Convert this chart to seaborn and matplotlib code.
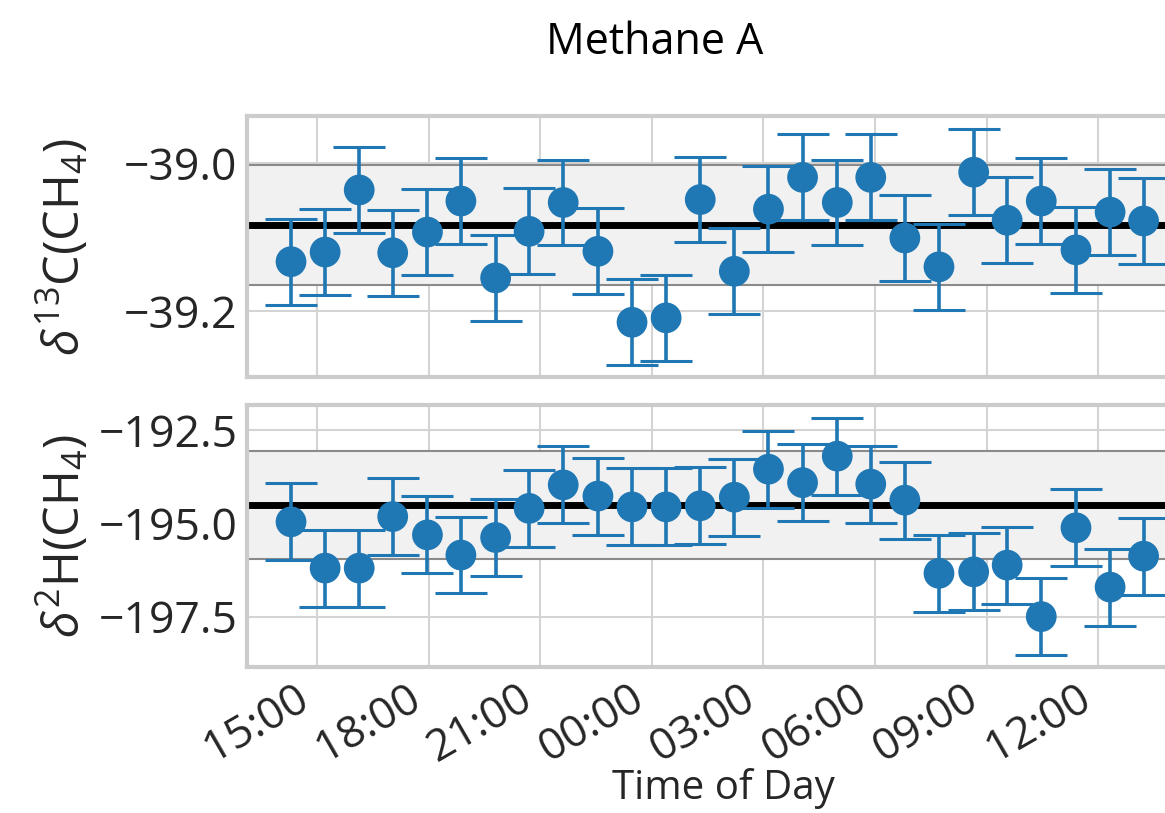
import pandas as pd
import matplotlib
matplotlib.use("Agg")
import matplotlib.pyplot as plt
import matplotlib.dates as mdates
from matplotlib.ticker import MultipleLocator, FuncFormatter
import seaborn as sns


# sample times (about one every 55 min)
times = [
    "2019-06-10 14:18", "2019-06-10 15:13", "2019-06-10 16:08", "2019-06-10 17:02",
    "2019-06-10 17:58", "2019-06-10 18:52", "2019-06-10 19:48", "2019-06-10 20:42",
    "2019-06-10 21:37", "2019-06-10 22:33", "2019-06-10 23:28", "2019-06-11 00:23",
    "2019-06-11 01:18", "2019-06-11 02:13", "2019-06-11 03:08", "2019-06-11 04:03",
    "2019-06-11 04:59", "2019-06-11 05:53", "2019-06-11 06:48", "2019-06-11 07:43",
    "2019-06-11 08:39", "2019-06-11 09:33", "2019-06-11 10:28", "2019-06-11 11:24",
    "2019-06-11 12:19", "2019-06-11 13:13",
]

d13c = [
    -39.133, -39.120, -39.036, -39.121, -39.093, -39.051, -39.155, -39.092,
    -39.053, -39.119, -39.215, -39.209, -39.049, -39.146, -39.062, -39.019,
    -39.053, -39.019, -39.101, -39.140, -39.012, -39.077, -39.051, -39.117,
    -39.066, -39.078,
]

d2h = [
    -194.96, -196.20, -196.20, -194.82, -195.31, -195.85, -195.38, -194.60,
    -193.97, -194.27, -194.56, -194.56, -194.53, -194.30, -193.55, -193.91,
    -193.20, -193.95, -194.38, -196.34, -196.30, -196.12, -197.50, -195.12,
    -196.71, -195.88,
]

d13c_err = 0.058
d2h_err = 1.03

d13c_mean = -39.083
d13c_sd = 0.081
d2h_mean = -194.51
d2h_sd = 1.45

df = pd.DataFrame({"time": pd.to_datetime(times), "d13c": d13c, "d2h": d2h})

sns.set_style("whitegrid")
plt.rcParams["font.family"] = ["Open Sans", "DejaVu Sans"]
plt.rcParams["mathtext.fontset"] = "custom"
plt.rcParams["mathtext.rm"] = "Open Sans"
plt.rcParams["mathtext.it"] = "Open Sans:italic"
plt.rcParams["mathtext.bf"] = "Open Sans:bold"

blue = "#1f77b4"
W, H = 1165, 813

fig = plt.figure(figsize=(W / 100, H / 100), dpi=100)
ax1 = fig.add_axes([247 / W, 1 - 377 / H, (1200 - 247) / W, 261 / H])
ax2 = fig.add_axes([247 / W, 1 - 667 / H, (1200 - 247) / W, 262 / H])

panels = [
    (ax1, "d13c", d13c_err, d13c_mean, d13c_sd, r"$\delta^{13}$C(CH$_4$)",
     (-39.289, -38.936), 0.2),
    (ax2, "d2h", d2h_err, d2h_mean, d2h_sd, r"$\delta^{2}$H(CH$_4$)",
     (-198.85, -191.83), 2.5),
]

for ax, col, err, mean, sd, label, ylim, step in panels:
    ax.set_axisbelow(True)
    ax.grid(True, color="#d4d4d4", linewidth=1.5)

    ax.fill_between(
        [pd.Timestamp("2019-06-10 00:00"), pd.Timestamp("2019-06-12 00:00")],
        mean - sd, mean + sd,
        facecolor="#f1f1f1", edgecolor="none", zorder=1
    )
    ax.axhline(mean + sd, color="#8a8a8a", linewidth=1.5, zorder=1.2)
    ax.axhline(mean - sd, color="#8a8a8a", linewidth=1.5, zorder=1.2)
    ax.axhline(mean, color="black", linewidth=5, zorder=2)

    ax.errorbar(
        df["time"], df[col], yerr=err,
        fmt="none", ecolor=blue, elinewidth=2.6,
        capsize=19, capthick=2.2, zorder=3
    )
    sns.scatterplot(
        data=df, x="time", y=col, ax=ax,
        color=blue, s=490, edgecolor="none", zorder=4
    )

    ax.set_ylim(*ylim)
    ax.yaxis.set_major_locator(MultipleLocator(step))
    ax.yaxis.set_major_formatter(
        FuncFormatter(lambda v, p: f"{v:.1f}".replace("-", "\u2212"))
    )
    ax.set_xlim(pd.Timestamp("2019-06-10 13:07"), pd.Timestamp("2019-06-11 14:44"))
    ax.xaxis.set_major_locator(mdates.HourLocator(byhour=range(0, 24, 3)))
    ax.xaxis.set_major_formatter(mdates.DateFormatter("%H:%M"))

    ax.set_ylabel(label, fontsize=35, color="#262626")
    ax.yaxis.set_label_coords(-0.163, 0.5)
    ax.set_xlabel("")
    ax.tick_params(axis="both", length=0, pad=7, labelsize=32, labelcolor="#262626")

    for sp in ax.spines.values():
        sp.set_color("#cccccc")
        sp.set_linewidth(3)

ax1.tick_params(axis="x", labelbottom=False)
plt.setp(ax2.get_xticklabels(), rotation=30, ha="right")
ax2.set_xlabel("Time of Day", fontsize=29, color="#262626", labelpad=-3)

fig.text(655 / W, 1 - 43 / H, "Methane A", fontsize=31, color="black",
         ha="center", va="center")

fig.savefig("out.png", dpi=100)
